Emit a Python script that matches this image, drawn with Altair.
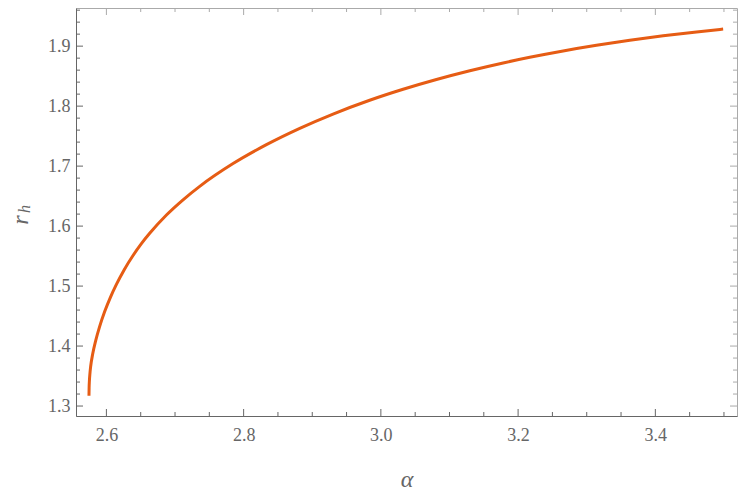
import altair as alt
import pandas as pd

# curve values
alpha = [2.5746, 2.5748, 2.5752, 2.5760, 2.5771, 2.5800, 2.5845, 2.5900, 2.5975,
         2.6060, 2.6146, 2.6260, 2.6388, 2.6510, 2.6631, 2.6875, 2.7117, 2.736,
         2.7846, 2.8332, 2.8818, 2.9303, 2.9837, 3.0324, 3.081, 3.1296, 3.1782,
         3.217, 3.2656, 3.3142, 3.3628, 3.4114, 3.46, 3.4988]
rh = [1.317, 1.3302, 1.3414, 1.3542, 1.3663, 1.3866, 1.4095, 1.432, 1.4575,
      1.4817, 1.5028, 1.5273, 1.5510, 1.5708, 1.5880, 1.6185, 1.6439, 1.6663,
      1.7042, 1.7358, 1.7630, 1.7868, 1.8098, 1.8281, 1.8444, 1.8590, 1.8720,
      1.8814, 1.8920, 1.9014, 1.9098, 1.9172, 1.9237, 1.9284]

x_major = [2.6, 2.8, 3.0, 3.2, 3.4]
x_minor = [2.65, 2.7, 2.75, 2.85, 2.9, 2.95, 3.05, 3.1, 3.15, 3.25, 3.3, 3.35, 3.45, 3.5]
y_major = [1.3, 1.4, 1.5, 1.6, 1.7, 1.8, 1.9]
y_minor = [1.32, 1.34, 1.36, 1.38, 1.42, 1.44, 1.46, 1.48, 1.52, 1.54, 1.56, 1.58,
           1.62, 1.64, 1.66, 1.68, 1.72, 1.74, 1.76, 1.78, 1.82, 1.84, 1.86, 1.88,
           1.92, 1.94, 1.96]

x_domain = [2.5557, 3.519]
y_domain = [1.2834, 1.9636]

W, H = 661, 408
dark = "#666666"
light = "#aaaaaa"
serif = "Liberation Serif"

xs = alt.Scale(domain=x_domain, nice=False, zero=False)
ys = alt.Scale(domain=y_domain, nice=False, zero=False)

xaxis = alt.Axis(values=x_major, ticks=False, grid=False, domainColor=dark,
                 labelFont=serif, labelFontSize=18, labelColor=dark, labelPadding=10,
                 format=".1f", title="α", titleFont=serif, titleFontSize=24,
                 titleFontStyle="italic", titleFontWeight="normal", titleColor=dark,
                 titlePadding=23)
yaxis = alt.Axis(values=y_major, ticks=False, grid=False, domainColor=dark,
                 labelFont=serif, labelFontSize=18, labelColor=dark, labelPadding=6,
                 format=".1f", title=None)

curve = pd.DataFrame({"a": alpha, "r": rh})

line = alt.Chart(curve).mark_line(color="#E65C14", strokeWidth=3, interpolate="monotone").encode(
    x=alt.X("a:Q", scale=xs, axis=xaxis),
    y=alt.Y("r:Q", scale=ys, axis=yaxis),
)

def xticks(vals, y0, y1, color):
    return alt.Chart(pd.DataFrame({"a": vals})).mark_rule(color=color, strokeWidth=1).encode(
        x=alt.X("a:Q", scale=xs, axis=xaxis), y=alt.value(y0), y2=alt.value(y1))

def yticks(vals, x0, x1, color):
    return alt.Chart(pd.DataFrame({"r": vals})).mark_rule(color=color, strokeWidth=1).encode(
        y=alt.Y("r:Q", scale=ys, axis=yaxis), x=alt.value(x0), x2=alt.value(x1))

layers = [
    xticks(x_major, H, H - 7, dark), xticks(x_minor, H, H - 4, dark),
    xticks(x_major, 0, 7, light), xticks(x_minor, 0, 4, light),
    yticks(y_major, 0, 7, dark), yticks(y_minor, 0, 4, dark),
    yticks(y_major, W, W - 7, light), yticks(y_minor, W, W - 4, light),
]

ytitle_r = alt.Chart(pd.DataFrame({"t": ["r"]})).mark_text(
    font=serif, fontSize=24, fontStyle="italic", color=dark, angle=270,
    align="center", baseline="middle").encode(
    text="t:N", x=alt.value(-55), y=alt.value(212))
ytitle_h = alt.Chart(pd.DataFrame({"t": ["h"]})).mark_text(
    font=serif, fontSize=16, fontStyle="italic", color=dark, angle=270,
    align="center", baseline="middle").encode(
    text="t:N", x=alt.value(-51), y=alt.value(201))

chart = alt.layer(line, *layers, ytitle_r, ytitle_h).properties(
    width=W, height=H,
    autosize=alt.AutoSizeParams(type="none"),
    padding={"left": 68, "top": 0, "right": 2, "bottom": 78},
).configure_view(stroke=light, strokeWidth=1)

chart.save("out.html", embed_options={"renderer": "svg", "actions": False})
